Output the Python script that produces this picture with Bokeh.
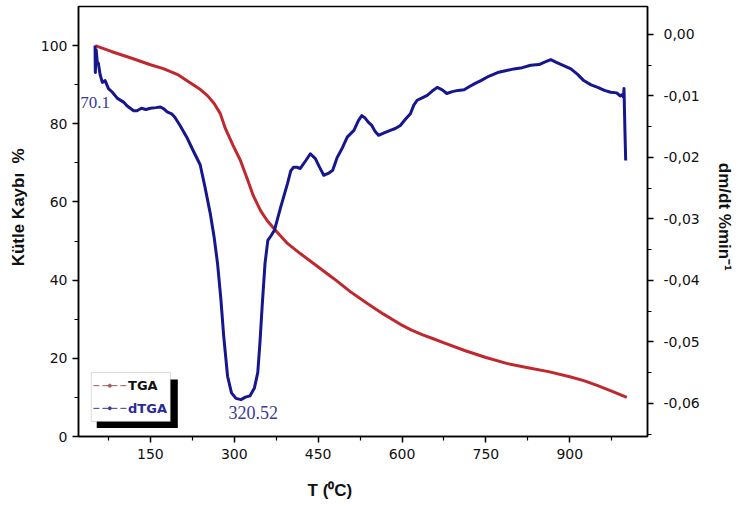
from bokeh.plotting import figure
from bokeh.models import (Range1d, LinearAxis, FixedTicker, CustomJSTickFormatter,
                          BoxAnnotation, Label)
from bokeh.embed import file_html
from bokeh.resources import INLINE

# ---- data ----
tga_T = [51.4, 80, 114, 150, 173, 200, 221, 240, 252, 264, 275, 284, 298, 311, 323, 334,
         347, 359, 374, 395, 418, 449, 477, 508, 538, 567, 597, 617, 637, 656, 674, 712,
         750, 787, 825, 862, 900, 925, 950, 977, 1002]
tga_V = [100.0, 98.5, 96.9, 95.1, 94.1, 92.5, 90.5, 88.7, 87.2, 85.2, 82.6, 78.8, 74.4,
         70.6, 66.0, 61.6, 57.8, 55.2, 52.7, 49.4, 46.8, 43.5, 40.5, 37.0, 34.0, 31.3,
         28.7, 27.2, 26.0, 25.0, 24.0, 22.0, 20.2, 18.7, 17.6, 16.6, 15.3, 14.3, 13.0,
         11.5, 10.0]

dtga_T = [51, 51.5, 53, 55, 57, 60, 64, 69, 75, 82, 91, 102, 108, 114, 120, 126, 134,
          142, 150, 160, 168, 174, 180, 188, 194, 203, 215, 227, 239, 248, 257, 264,
          270, 276, 281, 288, 295, 303, 312, 320, 328, 336, 342, 346, 350, 355, 360,
          366, 372, 383, 395, 401, 406, 412, 418, 428, 436, 445, 452, 460, 468, 476,
          484, 493, 502, 514, 522, 528, 534, 540, 546, 552, 558, 568, 579, 588, 597,
          606, 615, 621, 627, 636, 645, 654, 663, 672, 680, 690, 700, 711, 720, 730,
          741, 755, 771, 785, 800, 815, 830, 845, 855, 866, 875, 885, 902, 914, 925,
          938, 950, 962, 973, 984, 990, 993, 996, 997, 998, 999, 1000]
dtga_V = [-0.0018, -0.0062, -0.0025, -0.0045, -0.0047, -0.0065, -0.0078, -0.0075,
          -0.0088, -0.0094, -0.0104, -0.0110, -0.0116, -0.0120, -0.0124, -0.0124,
          -0.0120, -0.0122, -0.0120, -0.0119, -0.0118, -0.0121, -0.0126, -0.0129,
          -0.0135, -0.0148, -0.0167, -0.0190, -0.0212, -0.0250, -0.0291, -0.0330,
          -0.0372, -0.0430, -0.0490, -0.0556, -0.0583, -0.0592, -0.0594, -0.0590,
          -0.0588, -0.0575, -0.0550, -0.0500, -0.0440, -0.0372, -0.0335, -0.0327,
          -0.0318, -0.0281, -0.0243, -0.0222, -0.0216, -0.0216, -0.0218, -0.0205,
          -0.0194, -0.0202, -0.0215, -0.0229, -0.0226, -0.0221, -0.0200, -0.0185,
          -0.0167, -0.0156, -0.0140, -0.0132, -0.0136, -0.0143, -0.0148, -0.0158,
          -0.0164, -0.0160, -0.0156, -0.0153, -0.0148, -0.0138, -0.0129, -0.0115,
          -0.0107, -0.0103, -0.0099, -0.0092, -0.0086, -0.0090, -0.0096, -0.0093,
          -0.0091, -0.0090, -0.0085, -0.0080, -0.0075, -0.0068, -0.0062, -0.0059,
          -0.0056, -0.0054, -0.0050, -0.0049, -0.0045, -0.0041, -0.0045, -0.0049,
          -0.0056, -0.0065, -0.0075, -0.0082, -0.0086, -0.0091, -0.0094, -0.0095,
          -0.0100, -0.0098, -0.0102, -0.0088, -0.0130, -0.0170, -0.0205]

x_ticks = [150, 300, 450, 600, 750, 900]
x_minor = [75, 225, 375, 525, 675, 825, 975]
left_ticks = [0, 20, 40, 60, 80, 100]
left_minor = [10, 30, 50, 70, 90]
right_ticks = [0.0, -0.01, -0.02, -0.03, -0.04, -0.05, -0.06]
right_minor = [-0.005, -0.015, -0.025, -0.035, -0.045, -0.055, -0.065]

series_names = ["TGA", "dTGA"]
peak_labels = ["70.1", "320.52"]

RED = "#c0282d"
BLUE = "#16168f"
ANN = "#3a3aa0"
NB = "\u00a0"

p = figure(width=739, height=507, output_backend="svg", toolbar_location=None,
           x_range=Range1d(21.4, 1039), y_range=Range1d(0, 110.0),
           min_border_left=78, min_border_right=92, min_border_top=6,
           min_border_bottom=71)
p.extra_y_ranges = {"dtga": Range1d(-0.0654, 0.00455)}
p.xgrid.visible = False
p.ygrid.visible = False
p.outline_line_color = "black"
p.outline_line_width = 1.5
p.background_fill_color = "white"

# legend box (drawn under data)
shadow = BoxAnnotation(left=54, right=199, bottom=2.2, top=14.6, fill_color="black",
                       fill_alpha=1, line_color=None, level="underlay")
box = BoxAnnotation(left=44.3, right=185.7, bottom=3.84, top=16.37, fill_color="white",
                    fill_alpha=1, line_color="#8a8a8a", line_width=1, level="underlay")
p.add_layout(shadow)
p.add_layout(box)

p.line(tga_T, tga_V, line_color=RED, line_width=3, line_join="round")
p.line(dtga_T, dtga_V, line_color=BLUE, line_width=3, line_join="round",
       y_range_name="dtga")

# legend samples
p.line([48, 107], [13.0, 13.0], line_color="#a05a5a", line_width=1, line_dash="6 3")
p.scatter([77.5], [13.0], size=3, color="#a05a5a")
p.line([48, 107], [7.2, 7.2], line_color="#3b3b8c", line_width=1, line_dash="6 3")
p.scatter([77.5], [7.2], size=3, color="#3b3b8c")
p.add_layout(Label(x=110, y=13.0, text=series_names[0], text_baseline="middle",
                   text_font="DejaVu Sans", text_font_style="bold",
                   text_font_size="13px", text_color="#111111"))
p.add_layout(Label(x=110, y=7.2, text=series_names[1], text_baseline="middle",
                   text_font="DejaVu Sans", text_font_style="bold",
                   text_font_size="13px", text_color="#2a2a9a"))

# peak annotations
p.add_layout(Label(x=24.6, y=85.4, text=peak_labels[0], text_baseline="middle",
                   text_align="left", text_font="Liberation Serif",
                   text_font_size="17px", text_color=ANN))
p.add_layout(Label(x=334, y=6.1, text=peak_labels[1], text_baseline="middle",
                   text_align="center", text_font="Liberation Serif",
                   text_font_size="18px", text_color=ANN))

right_axis = LinearAxis(y_range_name="dtga")
p.add_layout(right_axis, "right")

for ax in [p.xaxis[0], p.yaxis[0], right_axis]:
    ax.axis_line_width = 1.5
    ax.axis_line_color = "black"
    ax.major_tick_line_width = 1.5
    ax.minor_tick_line_width = 1.2
    ax.major_tick_in = 0
    ax.major_tick_out = 6
    ax.minor_tick_in = 0
    ax.minor_tick_out = 4
    ax.major_label_text_font = "DejaVu Sans"
    ax.major_label_text_font_size = "14px"
    ax.major_label_text_color = "#111111"
    ax.axis_label_text_font = "Liberation Sans"
    ax.axis_label_text_font_style = "bold"
    ax.axis_label_text_font_size = "17px"
    ax.axis_label_text_color = "#111111"

p.xaxis[0].ticker = FixedTicker(ticks=x_ticks, minor_ticks=x_minor)
p.yaxis[0].ticker = FixedTicker(ticks=left_ticks, minor_ticks=left_minor)
right_axis.ticker = FixedTicker(ticks=right_ticks, minor_ticks=right_minor)
right_axis.formatter = CustomJSTickFormatter(
    code="var s = tick.toFixed(2).replace('.', ','); if (s === '-0,00') s = '0,00'; return s;")

p.xaxis[0].axis_label = "T (\u2070C)" + NB * 14
p.yaxis[0].axis_label = NB * 6 + "K\u00fctle Kayb\u0131" + NB * 2 + "%"
right_axis.axis_label = "dm/dt %min\u207b\u00b9" + NB * 2
p.xaxis[0].major_label_standoff = 6
p.xaxis[0].axis_label_standoff = 19
p.yaxis[0].major_label_standoff = 5
p.yaxis[0].axis_label_standoff = 10
right_axis.major_label_standoff = 10
right_axis.axis_label_standoff = 12

open("out.html", "w").write(file_html(p, INLINE))
